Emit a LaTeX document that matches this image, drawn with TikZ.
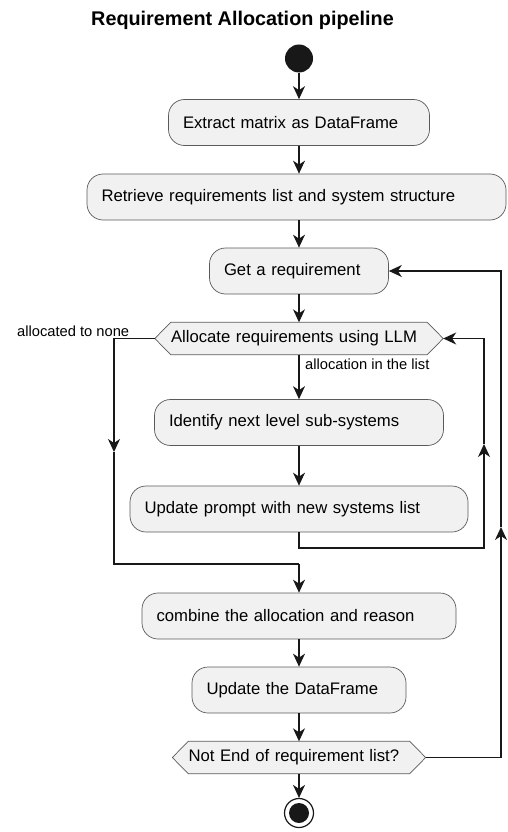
\documentclass[tikz,border=0pt]{standalone}
\usepackage{fontspec}
\setmainfont{Liberation Sans}
\usetikzlibrary{arrows.meta,backgrounds}
\definecolor{boxfill}{HTML}{F1F1F1}
\definecolor{ink}{HTML}{181818}
\definecolor{edgegray}{HTML}{5A5A5A}

\begin{document}
\begin{tikzpicture}[x=1pt,y=-1pt,
  act/.style={draw=edgegray, line width=0.7pt, fill=boxfill, rounded corners=16pt,
    inner xsep=14.5pt, inner ysep=0pt, minimum height=46pt, align=left,
    font=\fontsize{16.7}{20}\selectfont},
  hexbox/.style={inner xsep=16pt, inner ysep=0pt, minimum height=32pt, align=left,
    font=\fontsize{16.7}{20}\selectfont},
  hexline/.style={draw=edgegray, line width=0.7pt, fill=boxfill},
  flow/.style={draw=ink, line width=1.2pt, -{Stealth[length=13pt,width=12pt,inset=4pt]}},
  wire/.style={draw=ink, line width=1.2pt},
  lbl/.style={font=\fontsize{14.7}{17}\selectfont, inner sep=0pt}]

\useasboundingbox (0,0) rectangle (507,832);

% title
\node[font=\bfseries\fontsize{19.8}{23}\selectfont, anchor=base] (title) at (242.5,26)
  {Requirement Allocation pipeline};

% start and stop
\node[circle, fill=ink, minimum size=28pt, inner sep=0pt] (start) at (299,58.5) {};
\node[circle, draw=ink, line width=1.2pt, minimum size=29pt, inner sep=0pt] (stop) at (299,813) {};
\fill[ink] (stop.center) circle (10pt);

% activities
\node[act, text width=232pt] (a1) at (299,122.5) {Extract matrix as DataFrame};
\node[act, text width=390pt] (a2) at (296.5,197) {Retrieve requirements list and system structure};
\node[act, text width=150pt] (a3) at (299,271) {Get a requirement};
\node[act, text width=260pt] (a4) at (299,422.5) {Identify next level sub-systems};
\node[act, text width=309pt] (a5) at (299,509) {Update prompt with new systems list};
\node[act, text width=285pt] (a6) at (299,616) {combine the allocation and reason};
\node[act, text width=185pt] (a7) at (299,690) {Update the DataFrame};

% decisions
\node[hexbox, text width=256pt] (h1) at (299,338.5) {Allocate requirements using LLM};
\node[hexbox, text width=221pt] (h2) at (299,757.5) {Not End of requirement list?};
\begin{scope}[on background layer]
  \foreach \h in {h1,h2}{
    \draw[hexline] ([xshift=16pt]\h.north west) -- ([xshift=-16pt]\h.north east) -- (\h.east)
      -- ([xshift=-16pt]\h.south east) -- ([xshift=16pt]\h.south west) -- (\h.west) -- cycle;
  }
\end{scope}

% main flow
\draw[flow] (start) -- (a1);
\draw[flow] (a1.south) -- (a1.south |- a2.north);
\draw[flow] (a1.south |- a2.south) -- (a3.north);
\draw[flow] (a3) -- (h1);
\draw[flow] (h1) -- (a4);
\draw[flow] (a4) -- (a5);
\draw[flow] (a6) -- (a7);
\draw[flow] (a7) -- (h2);
\draw[flow] (h2) -- (stop);

% branch: allocated to none
\coordinate (nl) at (114,338.5);
\coordinate (nlm) at (114,452);
\coordinate (nlb) at (114,564);
\coordinate (join) at (299,564);
\draw[flow] (h1.west) -- (nl) -- (nlm);
\draw[wire] (nlm) -- (nlb) -- (join);
\draw[flow] (join) -- (a6.north);

% inner loop back to the decision
\coordinate (il1) at (299,548);
\coordinate (il2) at (484,548);
\coordinate (ilm) at (484,444);
\coordinate (il3) at (484,338.5);
\draw[flow] (a5.south) -- (il1) -- (il2) -- (ilm);
\draw[flow] (ilm) -- (il3) -- (h1.east);

% outer loop back to next requirement
\coordinate (ol1) at (501,757.5);
\coordinate (olm) at (501,527);
\coordinate (ol2) at (501,271);
\draw[flow] (h2.east) -- (ol1) -- (olm);
\draw[flow] (olm) -- (ol2) -- (a3.east);

% edge labels
\node[lbl, anchor=base west] (lnone) at (17,336) {allocated to none};
\node[lbl, anchor=base west] (lin) at (305,369) {allocation in the list};

\end{tikzpicture}
\end{document}
